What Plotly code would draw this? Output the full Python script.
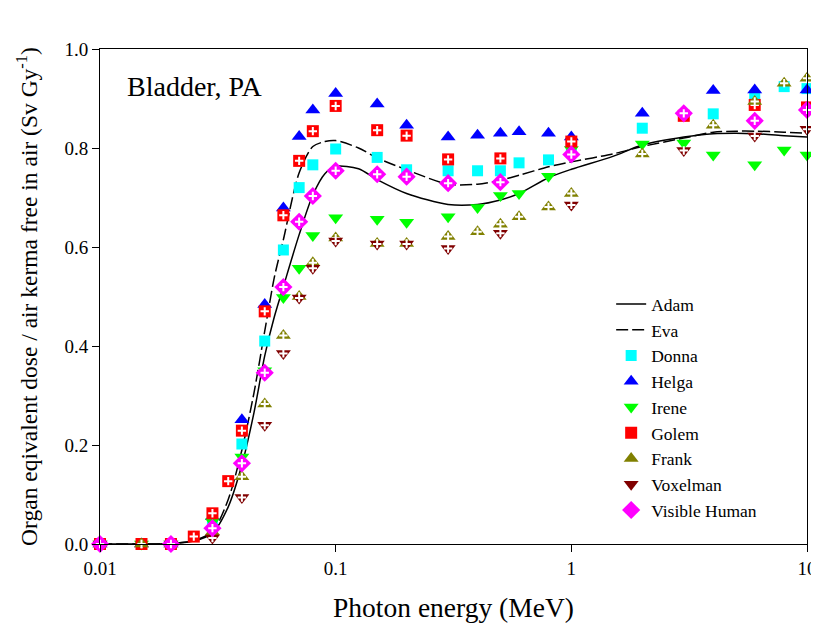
import plotly.graph_objects as go

FONT = "Liberation Serif, Times New Roman, serif"

# Curves (Adam, Eva)
curve_energy = [0.01, 0.015, 0.02, 0.025, 0.03, 0.035, 0.04, 0.045, 0.05, 0.055, 0.06, 0.07, 0.08,
                0.09, 0.1, 0.125, 0.15, 0.2, 0.3, 0.4, 0.5, 0.6, 0.8, 1, 1.5, 2, 3, 4, 5, 6, 8, 10]
adam = [0, 0, 0.001, 0.006, 0.022, 0.075, 0.16, 0.265, 0.38, 0.46, 0.52, 0.625, 0.705,
        0.748, 0.763, 0.758, 0.736, 0.708, 0.686, 0.686, 0.695, 0.708, 0.74, 0.757, 0.783, 0.806,
        0.822, 0.829, 0.83, 0.829, 0.825, 0.822]
eva = [0, 0, 0.001, 0.007, 0.025, 0.09, 0.19, 0.305, 0.43, 0.54, 0.615, 0.75, 0.803,
       0.813, 0.815, 0.80, 0.78, 0.756, 0.727, 0.727, 0.735, 0.745, 0.762, 0.772, 0.788, 0.803,
       0.82, 0.832, 0.834, 0.834, 0.832, 0.83]

donna_e = [0.01, 0.015, 0.02, 0.03, 0.04, 0.05, 0.06, 0.07, 0.08, 0.1, 0.15, 0.2, 0.3, 0.4, 0.5,
           0.6, 0.8, 1, 2, 4, 6, 8, 10]
donna = [0, 0, 0, 0.05, 0.202, 0.410, 0.594, 0.720, 0.766, 0.798, 0.781, 0.756, 0.754, 0.754,
         0.754, 0.770, 0.776, 0.805, 0.840, 0.869, 0.900, 0.924, 0.920]

helga_e = [0.01, 0.015, 0.02, 0.03, 0.04, 0.05, 0.06, 0.07, 0.08, 0.1, 0.15, 0.2, 0.3, 0.4, 0.5,
           0.6, 0.8, 1, 2, 4, 6, 10]
helga = [0, 0, 0, 0.055, 0.251, 0.484, 0.679, 0.823, 0.877, 0.910, 0.889, 0.846, 0.822, 0.826,
         0.830, 0.833, 0.830, 0.822, 0.870, 0.916, 0.917, 0.917]

irene_e = [0.01, 0.015, 0.02, 0.03, 0.04, 0.05, 0.06, 0.07, 0.08, 0.1, 0.15, 0.2, 0.3, 0.4, 0.5,
           0.6, 0.8, 1, 2, 3, 4, 6, 8, 10]
irene = [0, 0, 0, 0.045, 0.176, 0.35, 0.498, 0.557, 0.623, 0.659, 0.656, 0.650, 0.661, 0.680,
         0.704, 0.708, 0.743, 0.797, 0.808, 0.81, 0.786, 0.766, 0.796, 0.786]

golem_e = [0.01, 0.015, 0.02, 0.025, 0.03, 0.035, 0.04, 0.05, 0.06, 0.07, 0.08, 0.1, 0.15, 0.2,
           0.3, 0.5, 1, 3, 6, 10]
golem = [0, 0, 0, 0.015, 0.062, 0.127, 0.229, 0.470, 0.664, 0.774, 0.834, 0.885, 0.836, 0.825,
         0.777, 0.779, 0.813, 0.865, 0.887, 0.882]

frank_e = [0.01, 0.015, 0.02, 0.03, 0.04, 0.05, 0.06, 0.07, 0.08, 0.1, 0.15, 0.2, 0.3, 0.4, 0.5,
           0.6, 0.8, 1, 2, 4, 6, 8, 10]
frank = [0, 0, 0, 0.025, 0.136, 0.283, 0.421, 0.500, 0.568, 0.618, 0.607, 0.607, 0.621, 0.631,
         0.646, 0.661, 0.681, 0.708, 0.788, 0.846, 0.894, 0.931, 0.941]

voxel_e = [0.01, 0.02, 0.03, 0.04, 0.05, 0.06, 0.07, 0.08, 0.1, 0.15, 0.2, 0.3, 0.5, 1, 3,
           6, 10]
voxel = [0, 0, 0.012, 0.094, 0.240, 0.385, 0.497, 0.557, 0.612, 0.606, 0.606, 0.597, 0.628,
         0.685, 0.795, 0.824, 0.838]

vh_e = [0.01, 0.02, 0.03, 0.04, 0.05, 0.06, 0.07, 0.08, 0.1, 0.15, 0.2, 0.3, 0.5, 1, 3, 6, 10]
vh = [0, 0, 0.032, 0.163, 0.346, 0.519, 0.651, 0.703, 0.754, 0.747, 0.742, 0.729, 0.731, 0.787,
      0.870, 0.855, 0.877]

x_ticks = [0.01, 0.1, 1, 10]
x_tick_text = ["0.01", "0.1", "1", "10"]
y_ticks = [0.0, 0.2, 0.4, 0.6, 0.8, 1.0]
y_tick_text = ["0.0", "0.2", "0.4", "0.6", "0.8", "1.0"]

fig = go.Figure()
fig.add_trace(go.Scatter(x=curve_energy, y=adam, mode="lines", name="Adam",
                         line=dict(color="black", width=1.5, shape="spline", smoothing=0.8)))
fig.add_trace(go.Scatter(x=curve_energy, y=eva, mode="lines", name="Eva",
                         line=dict(color="black", width=1.5, shape="spline", smoothing=0.8,
                                   dash="12px,4px")))

series = [
    ("Donna", donna_e, donna, "square", "#00FFFF", 11, False),
    ("Helga", helga_e, helga, "triangle-up", "#0000FF", 13, False),
    ("Irene", irene_e, irene, "triangle-down", "#00FF00", 13, False),
    ("Golem", golem_e, golem, "square", "#FF0000", 12, True),
    ("Frank", frank_e, frank, "triangle-up", "#808000", 13, True),
    ("Voxelman", voxel_e, voxel, "triangle-down", "#800000", 13, True),
    ("Visible Human", vh_e, vh, "diamond", "#FF00FF", 14, True),
]
for name, xe, ye, sym, col, size, cross in series:
    fig.add_trace(go.Scatter(x=xe, y=ye, mode="markers", name=name, cliponaxis=False,
                             marker=dict(symbol=sym, color=col, size=size,
                                         line=dict(width=0))))
    if cross:
        fig.add_trace(go.Scatter(x=xe, y=ye, mode="markers", showlegend=False,
                                 cliponaxis=False, hoverinfo="skip",
                                 marker=dict(symbol="cross-thin", size=6,
                                             line=dict(color="white", width=2))))

fig.add_annotation(text="Bladder, PA", xref="paper", yref="paper", x=0.035, y=0.925,
                   xanchor="left", yanchor="middle", showarrow=False,
                   font=dict(family=FONT, size=28, color="black"))

# The page body adds an 8px offset, so the figure is sized to fit the window.
fig.update_layout(
    width=811, height=626,
    margin=dict(l=92, r=11.5, t=41, b=90, autoexpand=False),
    paper_bgcolor="white", plot_bgcolor="white",
    font=dict(family=FONT, color="black"),
    showlegend=True,
    legend=dict(x=0.723, y=0.521, xanchor="left", yanchor="top",
                font=dict(family=FONT, size=17.5, color="black"),
                bgcolor="rgba(0,0,0,0)", itemwidth=30, tracegroupgap=0),
    xaxis=dict(type="log", range=[-2, 1], tickvals=x_ticks, ticktext=x_tick_text,
               ticks="outside", ticklen=7, tickwidth=1, tickcolor="black",
               showline=True, linecolor="black", linewidth=1, mirror=True,
               showgrid=False, zeroline=False, automargin=False,
               tickfont=dict(family=FONT, size=19),
               title=dict(text="Photon energy (MeV)", font=dict(family=FONT, size=27.5),
                          standoff=19)),
    yaxis=dict(range=[0, 1], tickvals=y_ticks, ticktext=y_tick_text,
               ticks="outside", ticklen=7, tickwidth=1, tickcolor="black",
               showline=True, linecolor="black", linewidth=1, mirror=True,
               showgrid=False, zeroline=False, automargin=False,
               tickfont=dict(family=FONT, size=19),
               title=dict(text="Organ eqivalent dose / air kerma free in air (Sv Gy<sup>-1</sup>)",
                          font=dict(family=FONT, size=23.5), standoff=20)),
)

fig.write_html("out.html")
